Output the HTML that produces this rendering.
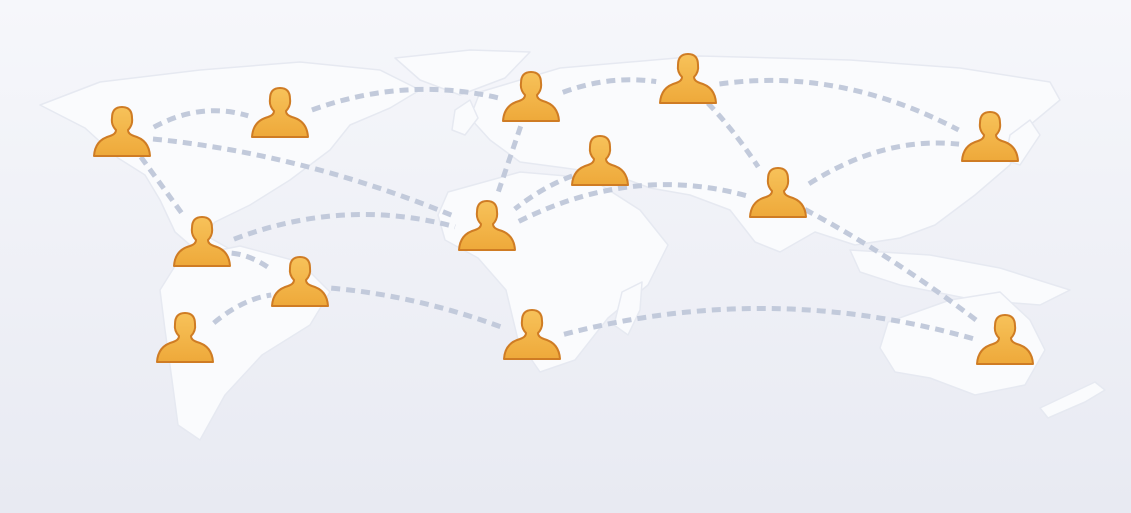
<!DOCTYPE html>
<html><head><meta charset="utf-8"><style>
html,body{margin:0;padding:0;width:1131px;height:513px;overflow:hidden}
svg{display:block}
</style></head><body>
<svg id="map" width="1131" height="513" viewBox="0 0 1131 513" xmlns="http://www.w3.org/2000/svg">
<defs>
<linearGradient id="bg" x1="0" y1="0" x2="0" y2="1"><stop offset="0" stop-color="#f6f7fb"/><stop offset="1" stop-color="#e8eaf2"/></linearGradient>
<linearGradient id="pf" x1="0" y1="0" x2="0" y2="1"><stop offset="0" stop-color="#f7c25a"/><stop offset="1" stop-color="#eea93a"/></linearGradient>
</defs>
<rect width="1131" height="513" fill="url(#bg)"/>
<g id="land" fill="#fafbfd" stroke="#e6e9f1" stroke-width="1.5"></g>
<g id="links" fill="none" stroke="#c2cadb" stroke-width="5" stroke-dasharray="9 6" stroke-linecap="butt"></g>
<g id="people"></g>
</svg>
<script>
const continentNames=["north-america","greenland","south-america","eurasia","africa","se-asia","australia","new-zealand","madagascar","japan","uk"];
const continentShapes=[
"40,105 100,82 200,70 300,62 380,70 420,90 390,108 350,125 330,150 290,180 250,205 215,222 205,235 235,252 205,258 175,232 160,200 145,175 118,158 85,128",
"395,58 470,50 530,52 505,78 460,95 420,80",
"180,258 240,246 300,262 330,292 310,325 262,355 225,395 200,440 178,425 172,380 165,330 160,290",
"480,92 560,68 700,56 850,60 960,68 1050,82 1060,100 1030,125 1010,165 975,195 935,225 900,238 855,245 815,232 780,252 755,242 730,210 690,195 650,188 615,175 565,168 520,162 490,140 470,118",
"448,192 520,172 590,178 640,210 668,245 648,285 608,318 575,360 540,372 518,340 506,290 478,258 445,240 438,215",
"850,250 930,255 1000,268 1070,290 1040,305 975,300 900,285 860,272",
"888,322 950,300 1000,292 1030,320 1045,350 1025,385 975,395 930,378 895,372 880,348",
"1040,408 1095,382 1105,390 1085,402 1048,418",
"622,292 642,282 640,310 628,335 614,325",
"1010,135 1030,120 1040,135 1020,165 1005,160",
"455,110 470,100 478,118 465,135 452,130"
];
const personNames=["usa-west","canada-east","europe-north","russia","japan","middle-east","india","west-africa","central-america","brazil","chile","south-africa","australia"];
const personX=[122,280,531,688,990,600,778,487,202,300,185,532,1005];
const personY=[156,137,121,103,161,185,217,250,266,306,362,359,364];
const linkFrom=[0,0,0,1,2,3,3,2,5,6,6,8,8,10,9,11,7];
const linkTo=[1,7,8,2,3,4,6,7,7,4,12,7,9,9,11,12,6];
const linkBend=[-10,-12,0,-14,-6,-20,-3,0,-3,-14,-5,-18,-3,-5,-6,-28,-22];
const NS="http://www.w3.org/2000/svg";
const land=document.getElementById('land');
continentShapes.forEach((pts,i)=>{
 const p=document.createElementNS(NS,'polygon');
 p.setAttribute('points',pts);
 p.setAttribute('stroke-linejoin','round');
 
 
 land.appendChild(p);
});
const links=document.getElementById('links');
function anchor(i){return [personX[i],personY[i]-25];}
linkFrom.forEach((f,i)=>{
 const a=anchor(f),b=anchor(linkTo[i]);
 const dx=b[0]-a[0],dy=b[1]-a[1],len=Math.hypot(dx,dy);
 const ux=dx/len,uy=dy/len,pad=32;
 const x1=a[0]+ux*pad,y1=a[1]+uy*pad,x2=b[0]-ux*pad,y2=b[1]-uy*pad;
 const mx=(x1+x2)/2,my=(y1+y2)/2+linkBend[i]*2;
 const p=document.createElementNS(NS,'path');
 p.setAttribute('d',`M${x1},${y1} Q${mx},${my} ${x2},${y2}`);
 
 
 links.appendChild(p);
});
const people=document.getElementById('people');
personX.forEach((x,i)=>{
 const y=personY[i];
 const g=document.createElementNS(NS,'path');
 const d=`M${x-28},${y} Q${x-27},${y-16} ${x-12},${y-20} Q${x-6},${y-22} ${x-6},${y-26} Q${x-11},${y-31} ${x-10},${y-38} Q${x-10},${y-49} ${x},${y-49} Q${x+10},${y-49} ${x+10},${y-38} Q${x+11},${y-31} ${x+6},${y-26} Q${x+6},${y-22} ${x+12},${y-20} Q${x+27},${y-16} ${x+28},${y} Z`;
 g.setAttribute('d',d);
 g.setAttribute('fill','url(#pf)');
 g.setAttribute('stroke','#cf7c24');
 g.setAttribute('stroke-width','2');
 g.setAttribute('stroke-linejoin','round');
 
 
 people.appendChild(g);
});
</script>
</body></html>
